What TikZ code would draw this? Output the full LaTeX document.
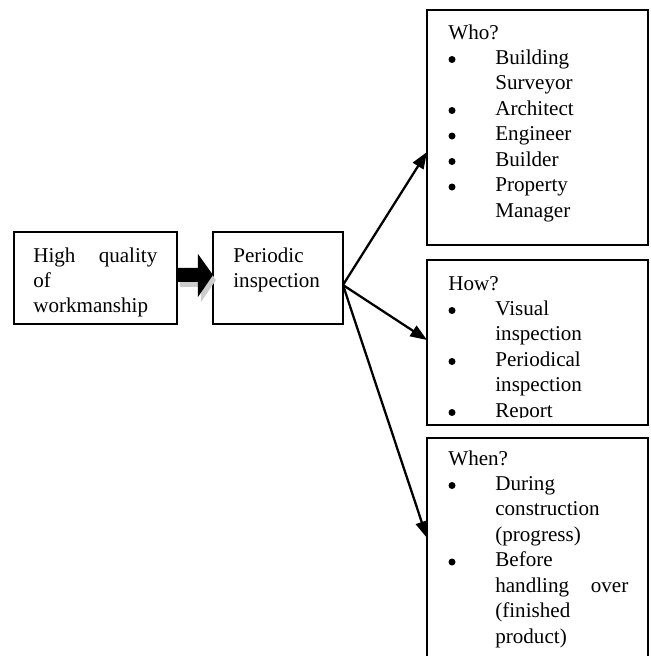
\documentclass[tikz,border=0pt]{standalone}
\usepackage{fontspec}
\setmainfont{Liberation Serif}
\usetikzlibrary{arrows.meta, calc}

\newcommand{\bulgap}{\hspace*{0.94cm}}

\begin{document}
\begin{tikzpicture}[x=0.02cm, y=-0.02cm,
    frame/.style={draw, line width=1.1pt, inner sep=0pt, outer sep=0pt, anchor=north west},
    boxtext/.style={anchor=base west, inner sep=0pt, align=left, font=\fontsize{12pt}{14.5pt}\selectfont},
    link/.style={line width=1.3pt, -{Triangle[length=9.5pt,width=7pt]}}
  ]
    \path[use as bounding box, clip] (0,0) rectangle (650,656);

    \node[frame, minimum width=3.26cm, minimum height=1.84cm] (quality) at (14,232) {};
    \node[boxtext, text width=2.48cm] at (33,262) {High\hfill quality\\of\\workmanship};

    \node[frame, minimum width=2.6cm, minimum height=1.84cm] (periodic) at (213,232) {};
    \node[boxtext, text width=2.2cm] at (233,262) {Periodic\\inspection};

    \node[frame, minimum width=4.42cm, minimum height=4.7cm] (who) at (427,10) {};
    \node[boxtext, text width=3.6cm] at (448,39) {Who?\\
      \bulgap Building\\ \bulgap Surveyor\\
      \bulgap Architect\\
      \bulgap Engineer\\
      \bulgap Builder\\
      \bulgap Property\\ \bulgap Manager};

    \node[frame, minimum width=4.42cm, minimum height=3.3cm] (how) at (427,260) {};
    \begin{scope}
      \clip (how.north west) rectangle ([yshift=0.14cm]how.south east);
      \node[boxtext, text width=3.6cm] at (448,290) {How?\\
        \bulgap Visual\\ \bulgap inspection\\
        \bulgap Periodical\\ \bulgap inspection\\
        \bulgap Report};
    \end{scope}

    \node[frame, minimum width=4.42cm, minimum height=4.64cm] (when) at (427,438) {};
    \node[boxtext, text width=3.6cm] at (448,465) {When?\\
      \bulgap During\\ \bulgap construction\\ \bulgap (progress)\\
      \bulgap Before\\ \bulgap handling\hfill over\\ \bulgap (finished\\ \bulgap product)};

    % bullets, 25.5px per line below the heading baseline
    \foreach \k in {1,3,4,5,6} \fill (452,39+\k*25.5-5) circle (3.5);
    \foreach \k in {1,3,5} \fill (452,290+\k*25.5-5) circle (3.5);
    \foreach \k in {1,4} \fill (452,465+\k*25.5-5) circle (3.5);

    % block arrow with its shadow
    \fill[gray!40, shift={($(quality.east)+(3,5)$)}] (0,-10) -- (21,-10) -- (21,-24) -- (36,-3) -- (21,19) -- (21,4) -- (0,4) -- cycle;
    \fill[shift={(quality.east)}] (0,-10) -- (21,-10) -- (21,-24) -- (36,-3) -- (21,19) -- (21,4) -- (0,4) -- cycle;

    \coordinate (fork) at ([yshift=-0.14cm]periodic.east);
    \draw[link] (fork) -- ([yshift=-0.49cm]who.west);
    \draw[link] (fork) -- ([yshift=0.05cm]how.west);
    \draw[link] (fork) -- ([yshift=0.32cm]when.west);
  \end{tikzpicture}
\end{document}
